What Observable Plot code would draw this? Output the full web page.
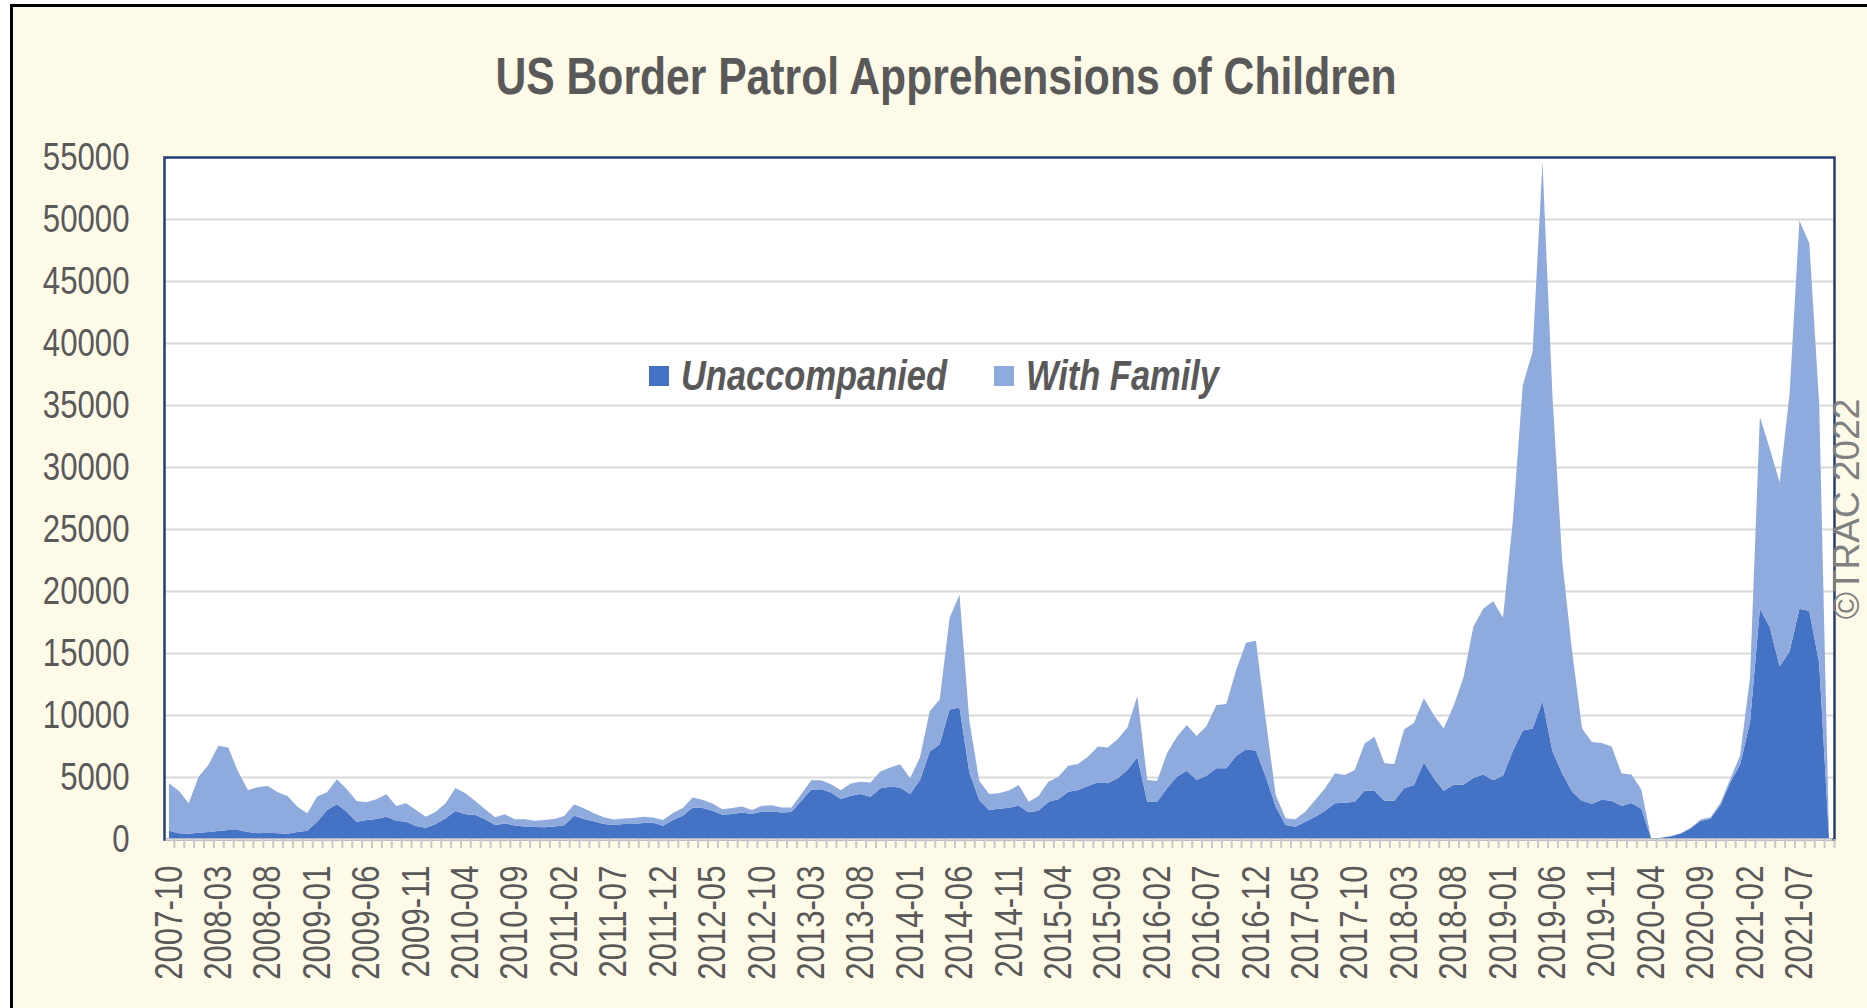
<!DOCTYPE html>
<html>
<head>
<meta charset="utf-8">
<script src="https://cdn.jsdelivr.net/npm/d3@7"></script>
<script src="https://cdn.jsdelivr.net/npm/@observablehq/plot@0.6"></script>
<style>
  html, body { margin: 0; padding: 0; background: #ffffff; }
  #page { position: relative; width: 1867px; height: 1008px; overflow: hidden; background: #ffffff; }
  #card { position: absolute; left: 10px; top: 4px; width: 1880px; height: 1020px;
          border-left: 3px solid #000; border-top: 3px solid #000; background: #fdfbe8; }
  #chart { position: absolute; left: 0; top: 0; }
  .narrow { font-family: "Liberation Sans", Arial, sans-serif; }
  #title { position: absolute; left: 946px; top: 50px; transform: translateX(-50%) scaleX(0.82);
           white-space: nowrap; font-size: 52px; line-height: 52px; font-weight: bold; color: #595959; }
  .sw { position: absolute; width: 20px; height: 20px; }
  .lt { position: absolute; font-size: 42px; line-height: 42px; font-weight: bold; font-style: italic;
        color: #595959; white-space: nowrap; transform: scaleX(0.82); transform-origin: left center; }
  #credit { position: absolute; left: 1847px; top: 509px; transform: translate(-50%, -50%) rotate(-90deg);
            white-space: nowrap; font-family: "Liberation Sans", Arial, sans-serif; font-size: 37px;
            line-height: 36px; color: #808080; }
</style>
</head>
<body>
<div id="page">
  <div id="card"></div>
  <div id="chart"></div>
  <div id="title" class="narrow">US Border Patrol Apprehensions of Children</div>
  <div class="sw" style="left:649px; top:366px; background:#4472C4;"></div>
  <div class="lt narrow" style="left:681px; top:355px;">Unaccompanied</div>
  <div class="sw" style="left:994px; top:366px; background:#8FAADC;"></div>
  <div class="lt narrow" style="left:1026px; top:355px;">With Family</div>
  <div id="credit">©TRAC 2022</div>
</div>
<script>
// Series names and colours
const series = ["Unaccompanied", "With Family"];
const seriesColors = ["#4472C4", "#8FAADC"];

// Monthly categories: 2007-10 through 2021-10
const months = d3.utcMonth
  .range(new Date(Date.UTC(2007, 9, 1)), new Date(Date.UTC(2021, 10, 1)))
  .map(d3.utcFormat("%Y-%m"));

// Axis tick labels
const tickLabels = ["2007-10","2008-03","2008-08","2009-01","2009-06","2009-11","2010-04","2010-09",
  "2011-02","2011-07","2011-12","2012-05","2012-10","2013-03","2013-08","2014-01","2014-06","2014-11",
  "2015-04","2015-09","2016-02","2016-07","2016-12","2017-05","2017-10","2018-03","2018-08","2019-01",
  "2019-06","2019-11","2020-04","2020-09","2021-02","2021-07"];
const yTicks = [0,5000,10000,15000,20000,25000,30000,35000,40000,45000,50000,55000];

// Unaccompanied children apprehended per month
const unaccompanied = [
  670,460,430,510,560,650,730,730,560,460,
  510,460,430,560,670,1400,2340,2800,2200,1370,
  1530,1610,1800,1480,1400,1050,910,1210,1670,2260,
  1990,1940,1590,1130,1260,1080,1000,970,940,1000,
  1100,1880,1610,1430,1210,1130,1210,1210,1290,1310,
  1070,1530,1880,2550,2490,2280,1960,2010,2140,2010,
  2220,2220,2140,2170,3080,3990,4020,3750,3220,3480,
  3620,3400,4100,4210,4150,3620,4740,7050,7640,10450,
  10600,5360,3140,2330,2440,2530,2690,2150,2280,3010,
  3200,3820,3950,4270,4570,4490,4890,5560,6590,3010,
  3010,4090,5030,5510,4760,5110,5700,5700,6690,7230,
  7120,5030,2610,1130,990,1400,1800,2280,2880,2930,
  3010,3900,3870,3090,3090,4090,4350,6170,4900,3890,
  4370,4370,4910,5210,4730,5100,7100,8740,8920,11100,
  7100,5280,3820,3090,2840,3170,3090,2660,2910,2440,
  50,100,230,440,860,1460,1640,2730,4550,6010,
  9400,18560,17100,13940,15110,18560,18380,14200,0
];

// Children apprehended with family per month
const withFamily = [
  3820,3440,2450,4520,5410,6880,6640,4700,3390,3710,
  3770,3310,3040,2050,1400,2020,1430,2020,1810,1700,
  1430,1590,1800,1180,1480,1290,890,990,1210,1860,
  1700,1130,800,620,730,510,590,510,590,610,
  760,920,860,640,540,450,450,480,510,430,
  460,560,610,800,670,590,430,480,490,320,
  460,510,410,380,540,750,720,670,720,1000,
  990,1160,1340,1550,1880,1280,1830,3270,3620,7370,
  9100,4150,1550,1290,1240,1390,1660,860,1190,1610,
  1830,2090,2100,2370,2880,2880,3150,3440,4940,1750,
  1670,2820,3220,3680,3550,4000,5110,5190,6940,8600,
  8870,4570,940,540,600,800,1350,1810,2420,2230,
  2550,3810,4380,3010,2960,4750,5030,5190,5100,5030,
  6370,8630,12200,13350,14450,12740,18560,27840,30390,43500,
  28750,17110,11290,5830,4990,4580,4370,2620,2300,1560,
  0,10,20,30,50,110,110,180,290,720,
  3600,15470,14390,14820,20750,31310,29670,20930,0
];

const rows = [];
months.forEach((m, i) => {
  rows.push({month: m, series: series[0], value: unaccompanied[i]});
  rows.push({month: m, series: series[1], value: withFamily[i]});
});

const W = 1867, H = 1008, mL = 164, mR = 33, mT = 157, mB = 169;
const halfStep = (W - mL - mR) / months.length / 2;
const font = '"Liberation Sans", Arial, sans-serif';

const chart = Plot.plot({
  width: W, height: H,
  marginLeft: mL, marginRight: mR, marginTop: mT, marginBottom: mB,
  style: {background: "transparent", fontFamily: font, color: "#595959", overflow: "visible"},
  x: {type: "point", domain: months, padding: 0.5, label: null},
  y: {domain: [0, 55000], label: null},
  color: {domain: series, range: seriesColors},
  marks: [
    Plot.frame({fill: "#ffffff", stroke: null}),
    Plot.gridY(yTicks, {stroke: "#d9d9d9", strokeOpacity: 1, strokeWidth: 2}),
    Plot.areaY(rows, {x: "month", y: "value", fill: "series", order: series, curve: "linear"}),
    Plot.frame({stroke: "#243f73", strokeWidth: 2.5}),
    Plot.ruleY([0], {stroke: "#d9d9d9", strokeWidth: 2.5, insetLeft: 1.5, insetRight: 1.5}),
    Plot.axisX(months, {tickSize: 9, tickFormat: () => "", stroke: "#c8c8c8", strokeWidth: 2,
                        dx: halfStep, label: null}),
    Plot.axisY(yTicks, {tickSize: 0, tickPadding: 35, fontSize: 38, tickFormat: d => String(d),
                        label: null, fill: "#595959"}),
    Plot.axisX(tickLabels, {tickSize: 0, tickPadding: 26, tickRotate: -90, fontSize: 38,
                            label: null, fill: "#595959"})
  ]
});
document.getElementById("chart").appendChild(chart);

// Condense the axis labels (narrow typeface look) along their reading direction
d3.select(chart)
  .selectAll('g[aria-label="y-axis tick label"] text, g[aria-label="x-axis tick label"] text')
  .each(function () {
    const len = this.getComputedTextLength();
    if (len > 0) {
      this.setAttribute("textLength", (len * 0.82).toFixed(2));
      this.setAttribute("lengthAdjust", "spacingAndGlyphs");
    }
  });
</script>
</body>
</html>
